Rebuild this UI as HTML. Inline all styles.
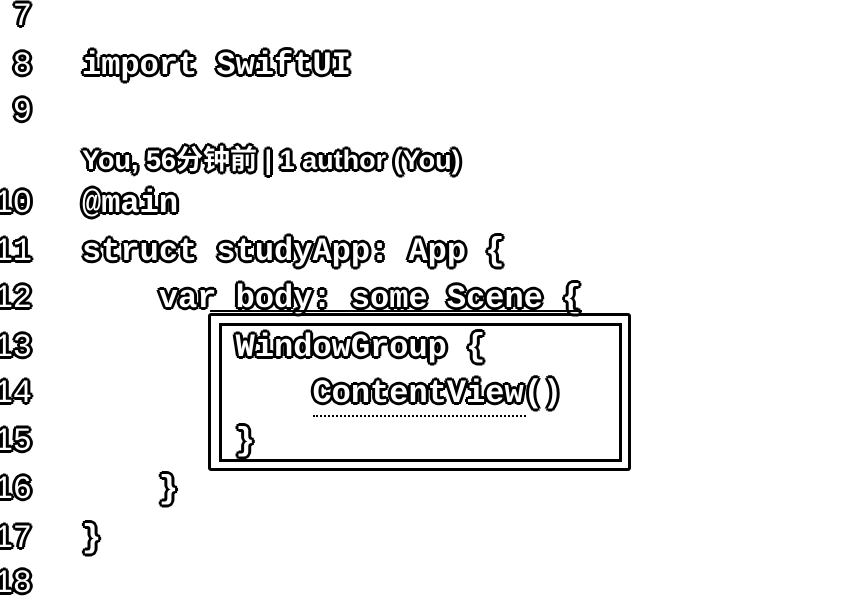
<!DOCTYPE html>
<html><head><meta charset="utf-8"><style>
body{margin:0;width:852px;height:592px;background:#fff;overflow:hidden;position:relative}
.l{position:absolute;height:48px;line-height:48px;font-family:"Liberation Mono",monospace;font-size:32px;font-weight:bold;color:#fff;white-space:pre;
text-shadow:2px 0 #000,-2px 0 #000,0 2px #000,0 -2px #000,2px 2px #000,-2px -2px #000,2px -2px #000,-2px 2px #000,3px 0 #000,-3px 0 #000,0 3px #000,0 -3px #000}
.n{left:-20px;width:52px;text-align:right;font-weight:normal}
.c{left:82px}
.a{font-family:"Liberation Sans","Noto Sans CJK SC",sans-serif;font-size:27px;letter-spacing:0px}
.box{position:absolute;left:208px;top:313px;width:417px;height:152px;border:3px solid #000;border-radius:3px;background:transparent}
.ib{position:absolute;left:219px;top:323px;width:397px;height:133px;border:3px solid #000}
.sq{position:absolute;height:4px;border-bottom:2px dotted #000}
</style></head><body>
<div class="box"></div><div class="ib"></div>
<div class="l n" style="top:-7px">7</div>
<div class="l n" style="top:42px">8</div>
<div class="l c" style="top:42px">import SwiftUI</div>
<div class="l n" style="top:88px">9</div>
<div class="l c a" style="top:136px">You, 56分钟前 | 1 author (You)</div>
<div class="l n" style="top:180px">10</div>
<div class="l c" style="top:180px">@main</div>
<div class="l n" style="top:228px">11</div>
<div class="l c" style="top:228px">struct studyApp: App {</div>
<div class="l n" style="top:275px">12</div>
<div class="l c" style="top:275px">    var body: some Scene {</div>
<div class="l n" style="top:324px">13</div>
<div class="l c" style="top:324px">        WindowGroup {</div>
<div class="l n" style="top:370px">14</div>
<div class="l c" style="top:370px">            ContentView()</div>
<div class="l n" style="top:418px">15</div>
<div class="l c" style="top:418px">        }</div>
<div class="l n" style="top:466px">16</div>
<div class="l c" style="top:466px">    }</div>
<div class="l n" style="top:515px">17</div>
<div class="l c" style="top:515px">}</div>
<div class="l n" style="top:560px">18</div>
<div class="sq" style="left:313px;top:411px;width:213px"></div>
<div style="position:absolute;left:210px;top:310px;width:372px;height:2px;background:#000"></div>
</body></html>
